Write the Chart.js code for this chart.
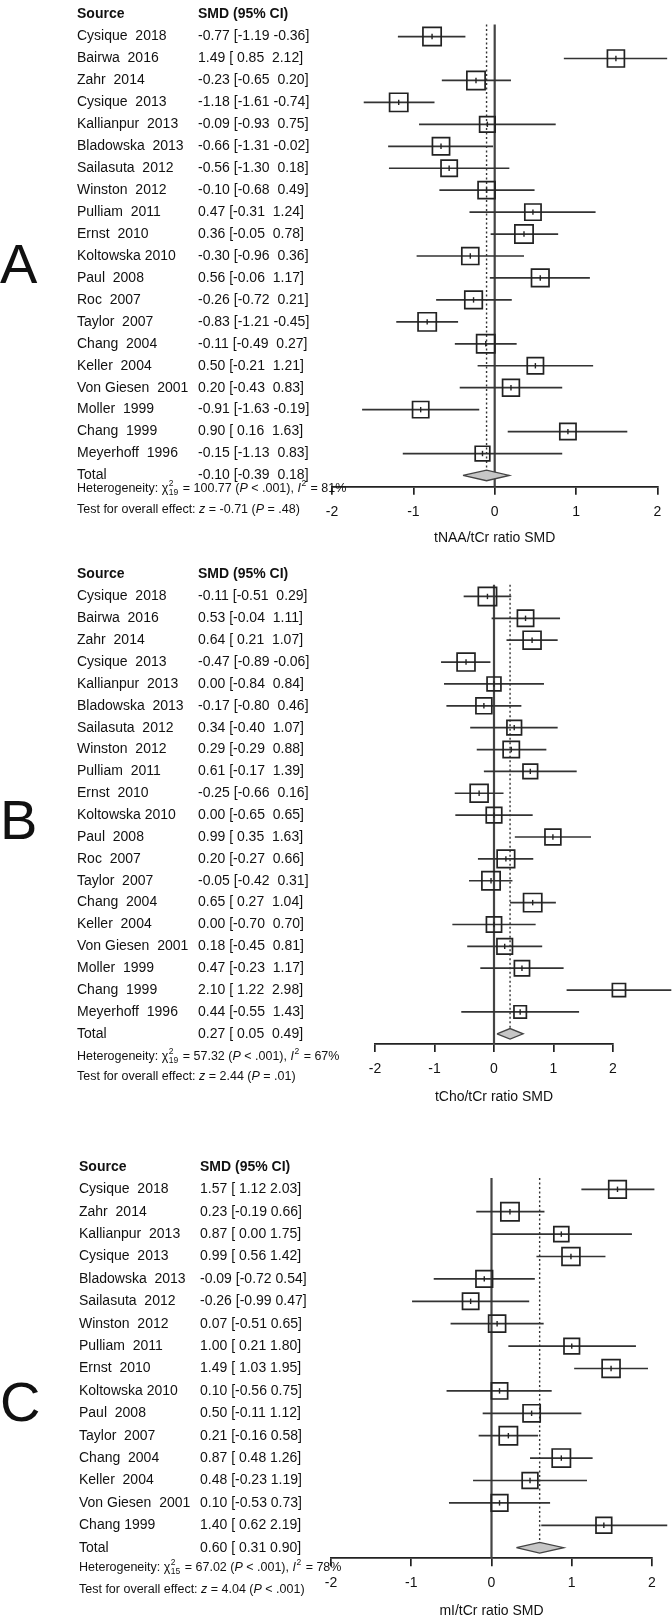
<!DOCTYPE html>
<html>
<head>
<meta charset="utf-8">
<script src="https://cdn.jsdelivr.net/npm/chart.js@4.4.0/dist/chart.umd.min.js"></script>
<style>
  html, body { margin: 0; padding: 0; background: #fff; }
  #wrap { position: relative; width: 672px; height: 1618px; overflow: hidden; }
  .panel { position: absolute; left: 0; width: 672px; }
  canvas { display: block; }
</style>
</head>
<body>
<div id="wrap">
  <div class="panel" style="top:0"><canvas id="chartA" width="672" height="560"></canvas></div>
  <div class="panel" style="top:560px"><canvas id="chartB" width="672" height="590"></canvas></div>
  <div class="panel" style="top:1150px"><canvas id="chartC" width="672" height="468"></canvas></div>
</div>
<script>
// ---- data ----
const studiesA = ['Cysique  2018', 'Bairwa  2016', 'Zahr  2014', 'Cysique  2013', 'Kallianpur  2013', 'Bladowska  2013',
  'Sailasuta  2012', 'Winston  2012', 'Pulliam  2011', 'Ernst  2010', 'Koltowska 2010', 'Paul  2008', 'Roc  2007',
  'Taylor  2007', 'Chang  2004', 'Keller  2004', 'Von Giesen  2001', 'Moller  1999', 'Chang  1999', 'Meyerhoff  1996'];
const smdA = [-0.77, 1.49, -0.23, -1.18, -0.09, -0.66, -0.56, -0.10, 0.47, 0.36, -0.30, 0.56, -0.26, -0.83, -0.11, 0.50, 0.20, -0.91, 0.90, -0.15];
const loA = [-1.19, 0.85, -0.65, -1.61, -0.93, -1.31, -1.30, -0.68, -0.31, -0.05, -0.96, -0.06, -0.72, -1.21, -0.49, -0.21, -0.43, -1.63, 0.16, -1.13];
const hiA = [-0.36, 2.12, 0.20, -0.74, 0.75, -0.02, 0.18, 0.49, 1.24, 0.78, 0.36, 1.17, 0.21, -0.45, 0.27, 1.21, 0.83, -0.19, 1.63, 0.83];
// relative study weight (box size, 1 = biggest box)
const wA = [1, 0.93, 1, 1, 0.85, 0.94, 0.89, 0.93, 0.89, 1, 0.93, 0.96, 0.96, 1, 1, 0.89, 0.92, 0.89, 0.89, 0.8];
const totalA = [-0.10, -0.39, 0.18];
const hetA = ['19', '100.77', '< .001', '81%'];
const testA = ['-0.71', '= .48'];

const studiesB = studiesA;
const smdB = [-0.11, 0.53, 0.64, -0.47, 0.00, -0.17, 0.34, 0.29, 0.61, -0.25, 0.00, 0.99, 0.20, -0.05, 0.65, 0.00, 0.18, 0.47, 2.10, 0.44];
const loB = [-0.51, -0.04, 0.21, -0.89, -0.84, -0.80, -0.40, -0.29, -0.17, -0.66, -0.65, 0.35, -0.27, -0.42, 0.27, -0.70, -0.45, -0.23, 1.22, -0.55];
const hiB = [0.29, 1.11, 1.07, -0.06, 0.84, 0.46, 1.07, 0.88, 1.39, 0.16, 0.65, 1.63, 0.66, 0.31, 1.04, 0.70, 0.81, 1.17, 2.98, 1.43];
const wB = [1, 0.89, 0.98, 0.98, 0.76, 0.87, 0.8, 0.89, 0.8, 0.98, 0.85, 0.87, 0.96, 1, 1, 0.83, 0.85, 0.83, 0.72, 0.68];
const totalB = [0.27, 0.05, 0.49];
const hetB = ['19', '57.32', '< .001', '67%'];
const testB = ['2.44', '= .01'];

const studiesC = ['Cysique  2018', 'Zahr  2014', 'Kallianpur  2013', 'Cysique  2013', 'Bladowska  2013', 'Sailasuta  2012',
  'Winston  2012', 'Pulliam  2011', 'Ernst  2010', 'Koltowska 2010', 'Paul  2008', 'Taylor  2007', 'Chang  2004',
  'Keller  2004', 'Von Giesen  2001', 'Chang 1999'];
const smdC = [1.57, 0.23, 0.87, 0.99, -0.09, -0.26, 0.07, 1.00, 1.49, 0.10, 0.50, 0.21, 0.87, 0.48, 0.10, 1.40];
const loC = [1.12, -0.19, 0.00, 0.56, -0.72, -0.99, -0.51, 0.21, 1.03, -0.56, -0.11, -0.16, 0.48, -0.23, -0.53, 0.62];
const hiC = [2.03, 0.66, 1.75, 1.42, 0.54, 0.47, 0.65, 1.80, 1.95, 0.75, 1.12, 0.58, 1.26, 1.19, 0.73, 2.19];
const wC = [0.96, 1, 0.82, 0.98, 0.91, 0.89, 0.93, 0.85, 0.98, 0.89, 0.94, 1, 1, 0.86, 0.91, 0.86];
const totalC = [0.60, 0.31, 0.90];
const hetC = ['15', '67.02', '< .001', '78%'];
const testC = ['4.04', '< .001'];

const xTicks = [-2, -1, 0, 1, 2];

const FONT = '"Liberation Sans", Arial, Helvetica, sans-serif';
const INK = '#111';

const panels = [
  { id: 'chartA', letter: 'A', names: studiesA, est: smdA, lo: loA, hi: hiA, w: wA, total: totalA, het: hetA, test: testA,
    title: 'tNAA/tCr ratio SMD', tight: false,
    h: 560, row0: 29.3, pitch: 22.3, axisY: 486.7, left: 332, right: 658, zeroTop: 17, hetY: 489, testY: 510, letterY: 268, nameX: 77, smdX: 198, titlePad: 1.7 },
  { id: 'chartB', letter: 'B', names: studiesB, est: smdB, lo: loB, hi: hiB, w: wB, total: totalB, het: hetB, test: testB,
    title: 'tCho/tCr ratio SMD', tight: false,
    h: 590, row0: 27, pitch: 22.33, axisY: 484, left: 375, right: 613, zeroTop: 15, hetY: 497, testY: 517, letterY: 264, nameX: 77, smdX: 198, titlePad: 0 },
  { id: 'chartC', letter: 'C', names: studiesC, est: smdC, lo: loC, hi: hiC, w: wC, total: totalC, het: hetC, test: testC,
    title: 'mI/tCr ratio SMD', tight: true,
    h: 468, row0: 39.3, pitch: 22.4, axisY: 408.3, left: 331, right: 652, zeroTop: 28, hetY: 418, testY: 440, letterY: 256, nameX: 79, smdX: 200, titlePad: 0 }
];

const AXIS_H = 59.7;

const ciLabel = (e, l, h, tight) => {
  const f = v => v.toFixed(2);
  const pad = v => (v < 0 ? '' : ' ') + f(v);
  return f(e) + ' [' + pad(l) + ' ' + (tight ? f(h) : pad(h)) + ']';
}

// draws a line of mixed normal / italic / stacked super-subscript text
const drawRich = (ctx, x, y, items, size) => {
  ctx.textBaseline = 'middle';
  ctx.textAlign = 'left';
  for (const it of items) {
    if (it.sup !== undefined || it.sub !== undefined) {
      ctx.font = (size * 0.68).toFixed(1) + 'px ' + FONT;
      let w = 0;
      if (it.sup) {
        ctx.fillText(it.sup, x + 0.5, y - size * 0.4);
        w = Math.max(w, ctx.measureText(it.sup).width);
      }
      if (it.sub) {
        ctx.fillText(it.sub, x + 0.5, y + size * 0.32);
        w = Math.max(w, ctx.measureText(it.sub).width);
      }
      x += w + 1.5;
    } else {
      ctx.font = (it.i ? 'italic ' : '') + size + 'px ' + FONT;
      ctx.fillText(it.t, x, y);
      x += ctx.measureText(it.t).width;
    }
  }
}

const makeTextPlugin = (P) => ({
  id: 'forestText',
  afterDraw(chart) {
    const ctx = chart.ctx;
    const yScale = chart.scales.y;
    const n = P.names.length;
    ctx.save();
    ctx.fillStyle = INK;
    ctx.textBaseline = 'middle';
    ctx.textAlign = 'left';

    // big panel letter
    ctx.font = '56px ' + FONT;
    ctx.fillText(P.letter, 0, P.letterY);

    // header
    ctx.font = 'bold 14px ' + FONT;
    ctx.fillText('Source', P.nameX, yScale.getPixelForValue(-1));
    ctx.fillText('SMD (95% CI)', P.smdX, yScale.getPixelForValue(-1));

    ctx.font = '14px ' + FONT;
    for (let i = 0; i < n; i++) {
      const y = yScale.getPixelForValue(i);
      ctx.fillText(P.names[i], P.nameX, y);
      ctx.fillText(ciLabel(P.est[i], P.lo[i], P.hi[i], P.tight), P.smdX, y);
    }
    const yt = yScale.getPixelForValue(n);
    ctx.fillText('Total', P.nameX, yt);
    ctx.fillText(ciLabel(P.total[0], P.total[1], P.total[2], P.tight), P.smdX, yt);

    drawRich(ctx, P.nameX, P.hetY, [
      { t: 'Heterogeneity: ' }, { t: '\u03c7' }, { sup: '2', sub: P.het[0] },
      { t: ' = ' + P.het[1] + ' (' }, { t: 'P', i: true }, { t: ' ' + P.het[2] + '), ' },
      { t: 'I', i: true }, { sup: '2' }, { t: ' = ' + P.het[3] }
    ], 12.5);
    drawRich(ctx, P.nameX, P.testY, [
      { t: 'Test for overall effect: ' }, { t: 'z', i: true }, { t: ' = ' + P.test[0] + ' (' },
      { t: 'P', i: true }, { t: ' ' + P.test[1] + ')' }
    ], 12.5);
    ctx.restore();
  }
});

const buildChart = (P) => {
  const n = P.names.length;
  const chartTop = P.row0 - P.pitch;
  const yMax = (P.axisY - chartTop) / P.pitch - 1;
  const yOf = px => (px - P.row0) / P.pitch;

  const ciData = [];
  P.lo.forEach((l, i) => {
    ciData.push({ x: l, y: i }, { x: P.hi[i], y: i }, { x: null, y: null });
  });
  const pts = P.est.map((e, i) => ({ x: e, y: i }));
  const dh = 0.24;
  const diamond = [
    { x: P.total[1], y: n }, { x: P.total[0], y: n - dh }, { x: P.total[2], y: n },
    { x: P.total[0], y: n + dh }, { x: P.total[1], y: n }
  ];

  return new Chart(document.getElementById(P.id), {
    type: 'scatter',
    data: {
      datasets: [
        { // point estimate tick
          data: pts, pointStyle: 'line', rotation: 90, pointRadius: 2.7,
          borderColor: '#222', borderWidth: 1.4, showLine: false, clip: false
        },
        { // weighted boxes
          data: pts, pointStyle: 'rect', pointRadius: P.w.map(w => w * 12.9),
          backgroundColor: 'rgba(255,255,255,0)', borderColor: '#222', borderWidth: 1.7, showLine: false, clip: false
        },
        { // confidence intervals
          data: ciData, showLine: true, spanGaps: false, pointRadius: 0,
          borderColor: '#333', borderWidth: 1.7, clip: false
        },
        { // pooled diamond
          data: diamond, showLine: true, pointRadius: 0, fill: 'shape',
          backgroundColor: '#c6c6c6', borderColor: '#444', borderWidth: 1.3, clip: false
        },
        { // pooled estimate, dotted
          data: [{ x: P.total[0], y: yOf(P.zeroTop) }, { x: P.total[0], y: n - dh }],
          showLine: true, pointRadius: 0, borderColor: '#333', borderWidth: 1.4, borderDash: [2, 2.5], clip: false
        },
        { // line of no effect
          data: [{ x: 0, y: yOf(P.zeroTop) }, { x: 0, y: yMax }],
          showLine: true, pointRadius: 0, borderColor: '#444', borderWidth: 2.2, clip: false
        }
      ]
    },
    options: {
      responsive: false,
      animation: false,
      events: [],
      devicePixelRatio: 1,
      layout: { padding: { left: P.left, right: 672 - P.right, top: chartTop, bottom: P.h - P.axisY - AXIS_H } },
      plugins: { legend: { display: false }, tooltip: { enabled: false } },
      scales: {
        x: {
          type: 'linear', min: xTicks[0], max: xTicks[xTicks.length - 1],
          afterFit: s => { s.height = AXIS_H; },
          afterBuildTicks: s => { s.ticks = xTicks.map(v => ({ value: v })); },
          border: { display: true, color: '#222', width: 1.7 },
          grid: { drawOnChartArea: false, drawTicks: true, tickLength: 8, color: '#222', lineWidth: 1.7 },
          ticks: { padding: 10, color: INK, font: { family: FONT, size: 14, lineHeight: 1 } },
          title: { display: true, text: P.title, color: INK, font: { family: FONT, size: 14, lineHeight: 1 },
            padding: { top: 0, bottom: P.titlePad } }
        },
        y: { type: 'linear', reverse: true, min: -1, max: yMax, display: false }
      }
    },
    plugins: [makeTextPlugin(P)]
  });
}

panels.forEach(buildChart);
</script>
</body>
</html>
